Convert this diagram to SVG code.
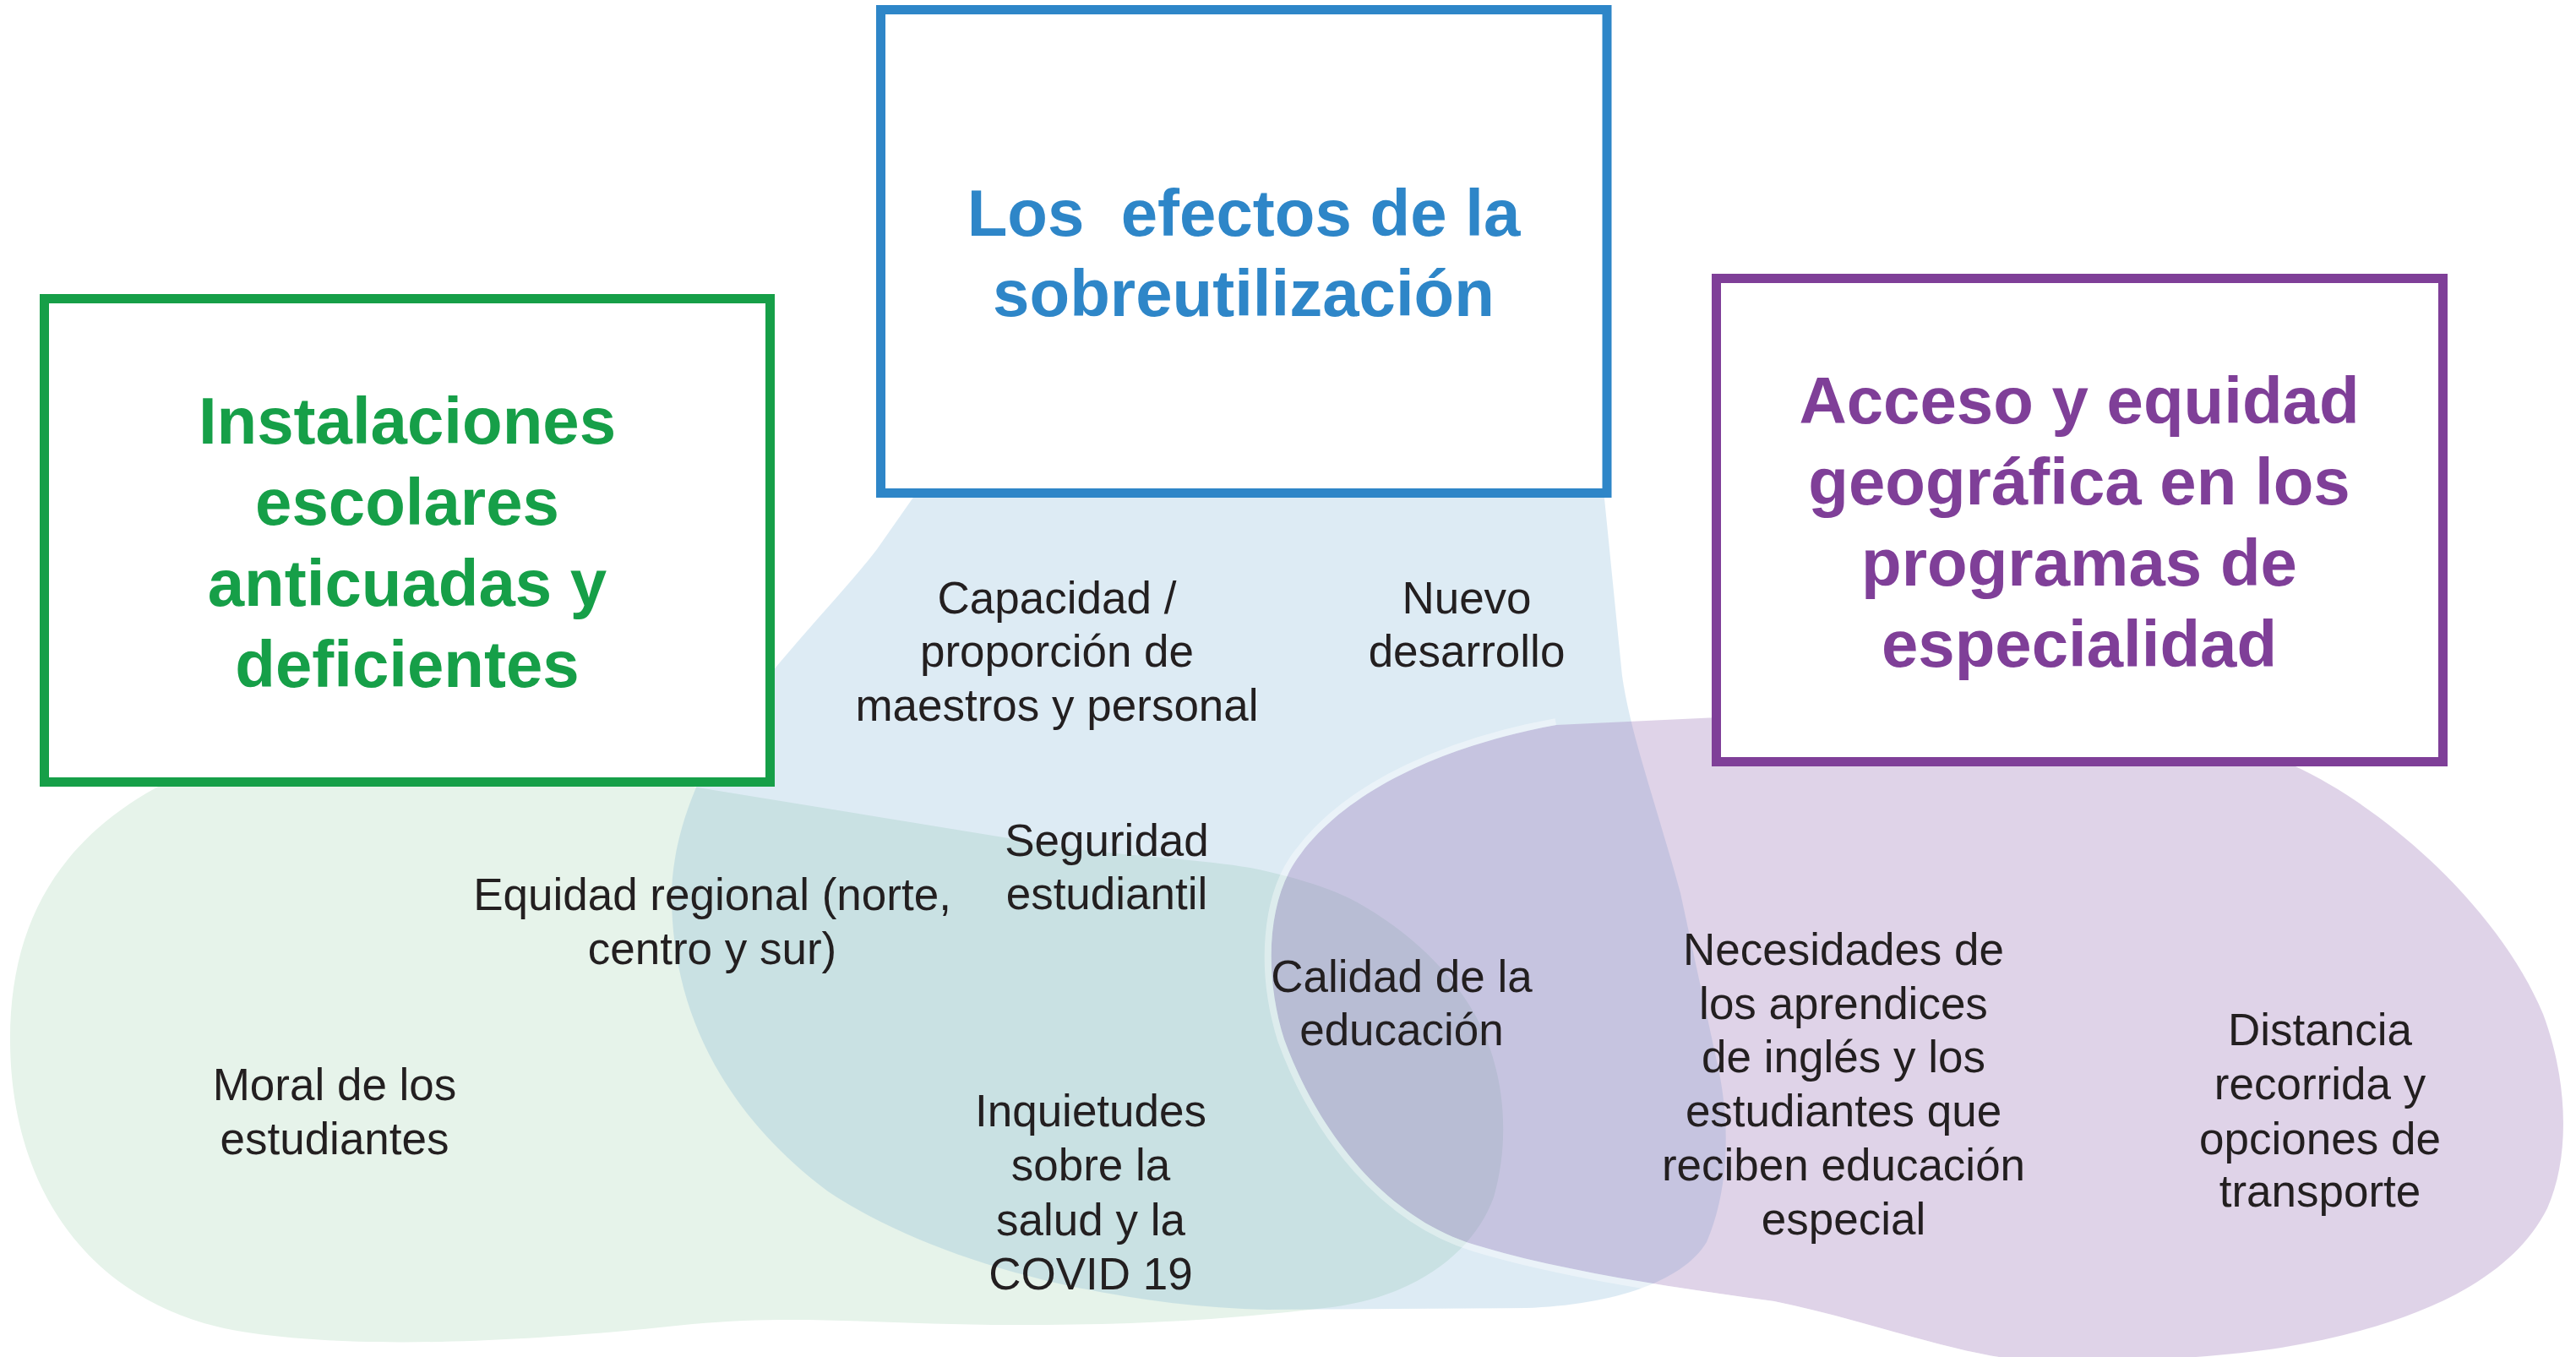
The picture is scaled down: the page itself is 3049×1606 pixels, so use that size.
<svg xmlns="http://www.w3.org/2000/svg" width="3049" height="1606" viewBox="0 0 3049 1606">
<style>
.box{fill:#ffffff;stroke-width:11}
.title{font-family:"Liberation Sans",Arial,sans-serif;font-weight:bold;font-size:78px;text-anchor:middle;white-space:pre}
.lbl{font-family:"Liberation Sans",Arial,sans-serif;font-size:53px;fill:#231f20;text-anchor:middle}
</style>
<defs>
<path id="purpleShape" d="M 1842,858 L 2100,846 L 2700,880 L 2717,907 C 2830,960 2960,1080 3010,1200 C 3040,1280 3042,1370 3015,1430 C 2970,1520 2850,1570 2700,1595 C 2600,1610 2450,1616 2380,1608 C 2300,1598 2200,1560 2100,1540 C 1990,1525 1850,1505 1745,1473 C 1640,1441 1560,1340 1520,1230 C 1495,1150 1500,1060 1540,1010 C 1600,930 1720,880 1842,858 Z"/>
<mask id="outsidePurple" maskUnits="userSpaceOnUse" x="0" y="0" width="3049" height="1606">
<rect x="0" y="0" width="3049" height="1606" fill="#ffffff"/>
<use href="#purpleShape" fill="#000000"/>
</mask>
</defs>
<g id="blobs">
<path id="green-blob" fill="#e6f3ea" d="M 230,910 C 80,975 12,1080 12,1230 C 12,1420 120,1555 300,1578 C 400,1592 560,1595 820,1567 C 950,1555 1050,1568 1200,1568 C 1350,1568 1450,1562 1577,1547 C 1680,1533 1745,1480 1768,1417 C 1790,1340 1778,1260 1747,1203 C 1713,1140 1650,1090 1597,1063 C 1570,1050 1530,1037 1480,1027 C 1420,1017 1330,1012 1274,1005 L 832,933 L 700,911 Z"/>
<path id="blue-blob" fill="#64a4cd" fill-opacity="0.22" d="M 1087,580 L 1038,650 C 1000,700 930,770 870,850 C 820,920 795,1000 795,1060 C 795,1200 860,1320 980,1410 C 1100,1490 1300,1545 1500,1550 L 1806,1548 C 1900,1545 1990,1520 2020,1470 C 2050,1400 2045,1320 2035,1270 L 1989,1057 C 1960,950 1930,870 1920,800 L 1898,580 Z"/>
<use id="purple-blob" href="#purpleShape" fill="#8d62ad" fill-opacity="0.28"/>
<path id="purple-halo" mask="url(#outsidePurple)" fill="none" stroke="#ffffff" stroke-opacity="0.38" stroke-width="16" d="M 1842,858 C 1720,880 1600,930 1540,1010 C 1500,1060 1495,1150 1520,1230 C 1560,1340 1640,1441 1745,1473 C 1850,1505 1990,1525 2100,1540 C 2200,1560 2300,1598 2380,1608"/>
</g>
<g id="connectors"></g>
<g id="node-instalaciones">
<rect class="box" x="52.5" y="353.5" width="859" height="572" stroke="#169f48"/>
<text class="title" fill="#169f48" x="482" y="525">Instalaciones</text>
<text class="title" fill="#169f48" x="482" y="621">escolares</text>
<text class="title" fill="#169f48" x="482" y="717">anticuadas y</text>
<text class="title" fill="#169f48" x="482" y="813">deficientes</text>
</g>
<g id="node-sobreutilizacion">
<rect class="box" x="1042.5" y="11.5" width="859.5" height="572" stroke="#2e86c8"/>
<text class="title" fill="#2e86c8" x="1472" y="279">Los  efectos de la</text>
<text class="title" fill="#2e86c8" x="1472" y="374">sobreutilización</text>
</g>
<g id="node-acceso">
<rect class="box" x="2031.5" y="329.5" width="860" height="572" stroke="#7f3f98"/>
<text class="title" fill="#7f3f98" x="2461" y="501">Acceso y equidad</text>
<text class="title" fill="#7f3f98" x="2461" y="597">geográfica en los</text>
<text class="title" fill="#7f3f98" x="2461" y="693">programas de</text>
<text class="title" fill="#7f3f98" x="2461" y="789">especialidad</text>
</g>
<g id="label-capacidad">
<text class="lbl" x="1251" y="726">Capacidad /</text>
<text class="lbl" x="1251" y="789">proporción de</text>
<text class="lbl" x="1251" y="853">maestros y personal</text>
</g>
<g id="label-nuevo">
<text class="lbl" x="1736" y="726">Nuevo</text>
<text class="lbl" x="1736" y="789">desarrollo</text>
</g>
<g id="label-seguridad">
<text class="lbl" x="1310" y="1013">Seguridad</text>
<text class="lbl" x="1310" y="1076">estudiantil</text>
</g>
<g id="label-equidad">
<text class="lbl" x="843" y="1077">Equidad regional (norte,</text>
<text class="lbl" x="843" y="1141">centro y sur)</text>
</g>
<g id="label-moral">
<text class="lbl" x="396" y="1302">Moral de los</text>
<text class="lbl" x="396" y="1366">estudiantes</text>
</g>
<g id="label-inquietudes">
<text class="lbl" x="1291" y="1333">Inquietudes</text>
<text class="lbl" x="1291" y="1397">sobre la</text>
<text class="lbl" x="1291" y="1462">salud y la</text>
<text class="lbl" x="1291" y="1526">COVID 19</text>
</g>
<g id="label-calidad">
<text class="lbl" x="1659" y="1174">Calidad de la</text>
<text class="lbl" x="1659" y="1237">educación</text>
</g>
<g id="label-necesidades">
<text class="lbl" x="2182" y="1142">Necesidades de</text>
<text class="lbl" x="2182" y="1206">los aprendices</text>
<text class="lbl" x="2182" y="1269">de inglés y los</text>
<text class="lbl" x="2182" y="1333">estudiantes que</text>
<text class="lbl" x="2182" y="1397">reciben educación</text>
<text class="lbl" x="2182" y="1461">especial</text>
</g>
<g id="label-distancia">
<text class="lbl" x="2746" y="1237">Distancia</text>
<text class="lbl" x="2746" y="1301">recorrida y</text>
<text class="lbl" x="2746" y="1366">opciones de</text>
<text class="lbl" x="2746" y="1428">transporte</text>
</g>
</svg>
